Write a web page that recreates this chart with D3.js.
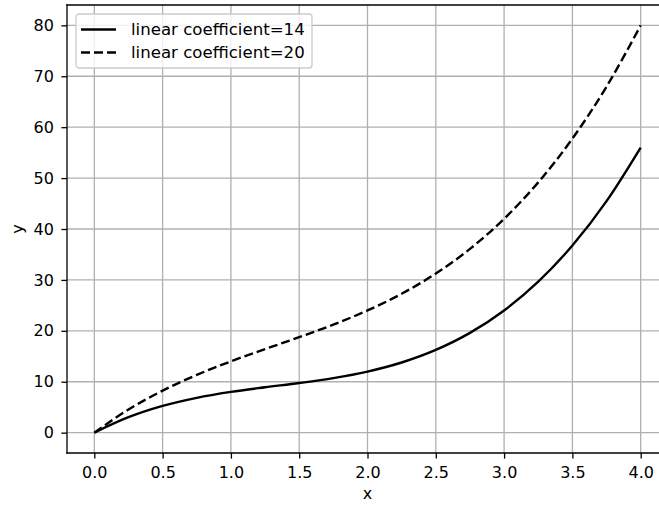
<!DOCTYPE html>
<html>
<head>
<meta charset="utf-8">
<script src="https://cdn.jsdelivr.net/npm/d3@7"></script>
<style>
  body { margin: 0; background: #fff; }
  svg { display: block; font-family: 'DejaVu Sans', sans-serif; }
</style>
</head>
<body>
<div id="chart"></div>
<script>
// values, x step 0.25
const xs = [0, 0.25, 0.5, 0.75, 1, 1.25, 1.5, 1.75, 2, 2.25, 2.5, 2.75, 3, 3.25, 3.5, 3.75, 4]
const coef14 = [0, 3.03, 5.25, 6.84, 8, 8.91, 9.75, 10.72, 12, 13.78, 16.25, 19.59, 24, 29.66, 36.75, 45.47, 56]
const coef20 = [0, 4.53, 8.25, 11.34, 14, 16.41, 18.75, 21.22, 24, 27.28, 31.25, 36.09, 42, 49.16, 57.75, 67.97, 80]
const seriesNames = ['linear coefficient=14', 'linear coefficient=20']
const xTicks = [0, 0.5, 1, 1.5, 2, 2.5, 3, 3.5, 4]
const yTicks = [0, 10, 20, 30, 40, 50, 60, 70, 80]

const width = 659
const height = 507
const margin = { left: 67, top: 5, right: -9, bottom: 54 }
const fontSize = '16px'

const svg = d3.select('#chart')
  .append('svg')
  .attr('width', width)
  .attr('height', height)

const x = d3.scaleLinear()
  .domain([-0.2, 4.2])
  .range([margin.left, width - margin.right])

const y = d3.scaleLinear()
  .domain([-4, 84])
  .range([height - margin.bottom, margin.top])

// clip everything to the axes area
svg.append('defs').append('clipPath')
  .attr('id', 'plot-clip')
  .append('rect')
  .attr('x', margin.left)
  .attr('y', margin.top)
  .attr('width', x.range()[1] - margin.left)
  .attr('height', y.range()[0] - margin.top)

const plot = svg.append('g').attr('clip-path', 'url(#plot-clip)')

// Grid
plot.append('g')
  .selectAll('line')
  .data(xTicks)
  .join('line')
  .attr('x1', d => x(d))
  .attr('x2', d => x(d))
  .attr('y1', y.range()[0])
  .attr('y2', y.range()[1])
  .attr('stroke', '#b0b0b0')
  .attr('stroke-width', 1.3)

plot.append('g')
  .selectAll('line')
  .data(yTicks)
  .join('line')
  .attr('x1', x.range()[0])
  .attr('x2', x.range()[1])
  .attr('y1', d => y(d))
  .attr('y2', d => y(d))
  .attr('stroke', '#b0b0b0')
  .attr('stroke-width', 1.3)

// Curves
const line = d3.line()
  .x(d => x(d[0]))
  .y(d => y(d[1]))
  .curve(d3.curveMonotoneX)

const series = [
  { name: seriesNames[0], values: coef14, dash: null },
  { name: seriesNames[1], values: coef20, dash: '9,4' }
]

series.forEach(s => {
  plot.append('path')
    .datum(xs.map((v, i) => [v, s.values[i]]))
    .attr('d', line)
    .attr('fill', 'none')
    .attr('stroke', '#000')
    .attr('stroke-width', 2.4)
    .attr('stroke-dasharray', s.dash)
})

// Axes
const xAxis = svg.append('g')
  .attr('transform', `translate(0,${y.range()[0]})`)
  .call(d3.axisBottom(x).tickValues(xTicks).tickFormat(d3.format('.1f')).tickSize(5.6).tickPadding(8.2))

const yAxis = svg.append('g')
  .attr('transform', `translate(${margin.left},0)`)
  .call(d3.axisLeft(y).tickValues(yTicks).tickFormat(d3.format('d')).tickSize(5.6).tickPadding(7.6))

;[xAxis, yAxis].forEach(a => {
  a.select('.domain').remove()
  a.selectAll('line').attr('stroke', '#000').attr('stroke-width', 1.3)
  a.selectAll('text').attr('font-size', fontSize).attr('fill', '#000').attr('font-family', "'DejaVu Sans', sans-serif")
})

// Spines (left, bottom, top; right one falls outside the crop)
const spines = [
  [margin.left, y.range()[0], margin.left, y.range()[1]],
  [margin.left, y.range()[0], width, y.range()[0]],
  [margin.left, y.range()[1], width, y.range()[1]]
]
svg.append('g')
  .selectAll('line')
  .data(spines)
  .join('line')
  .attr('x1', d => d[0]).attr('y1', d => d[1])
  .attr('x2', d => d[2]).attr('y2', d => d[3])
  .attr('stroke', '#000')
  .attr('stroke-width', 1.3)
  .attr('stroke-linecap', 'square')

// Axis labels
svg.append('text')
  .attr('x', x(2))
  .attr('y', 499)
  .attr('text-anchor', 'middle')
  .attr('font-size', fontSize)
  .text('x')

svg.append('text')
  .attr('transform', `translate(23,${y(40)}) rotate(-90)`)
  .attr('text-anchor', 'middle')
  .attr('font-size', fontSize)
  .text('y')

// Legend
const legend = svg.append('g')
  .attr('transform', 'translate(76,14)')

legend.append('rect')
  .attr('x', 0)
  .attr('y', 0)
  .attr('width', 236)
  .attr('height', 54)
  .attr('rx', 3)
  .attr('fill', 'rgba(255,255,255,0.8)')
  .attr('stroke', '#cccccc')
  .attr('stroke-width', 1.3)

series.forEach((s, i) => {
  const cy = 15.5 + i * 23
  legend.append('line')
    .attr('x1', 5)
    .attr('x2', 40)
    .attr('y1', cy)
    .attr('y2', cy)
    .attr('stroke', '#000')
    .attr('stroke-width', 2.4)
    .attr('stroke-dasharray', s.dash)
  legend.append('text')
    .attr('x', 55)
    .attr('y', cy + 5.2)
    .attr('font-size', '16.6px')
    .text(s.name)
})
</script>
</body>
</html>
